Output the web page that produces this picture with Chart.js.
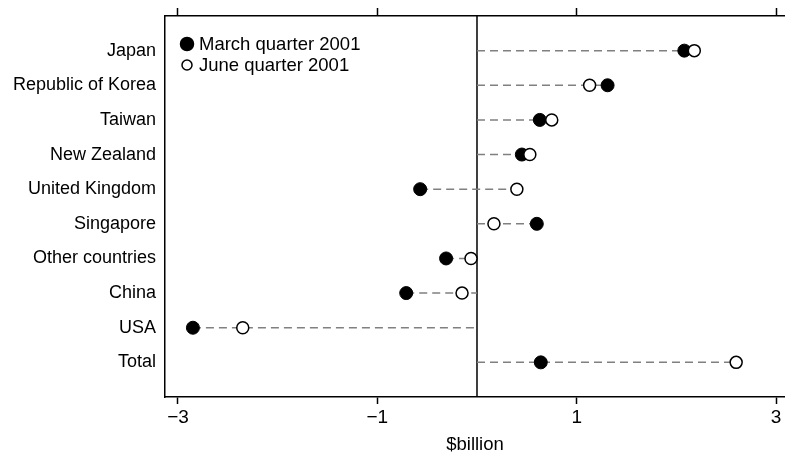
<!DOCTYPE html>
<html>
<head>
<meta charset="utf-8">
<script src="https://cdn.jsdelivr.net/npm/chart.js@4/dist/chart.umd.min.js"></script>
<style>
    body { margin: 0; background: #fff; }
    #wrap { width: 785px; height: 452px; position: relative; }
</style>
</head>
<body>
<div id="wrap"><canvas id="chart"></canvas></div>
<script>
// Data
const categories = ['Japan', 'Republic of Korea', 'Taiwan', 'New Zealand', 'United Kingdom',
    'Singapore', 'Other countries', 'China', 'USA', 'Total'];
const marchValues = [2.08, 1.31, 0.63, 0.45, -0.57, 0.60, -0.31, -0.71, -2.85, 0.64];
const juneValues = [2.18, 1.13, 0.75, 0.53, 0.40, 0.17, -0.06, -0.15, -2.35, 2.60];
const xTicks = [-3, -1, 1, 3];
const seriesNames = ['March quarter 2001', 'June quarter 2001'];

const FONT = 'Liberation Sans, Arial, sans-serif';

// dashed guide from zero out to the farthest marker in each row
const guides = [];
categories.forEach((c, i) => {
    const lo = Math.min(0, marchValues[i], juneValues[i]);
    const hi = Math.max(0, marchValues[i], juneValues[i]);
    guides.push({ x: lo, y: i + 1 }, { x: hi, y: i + 1 }, { x: hi, y: null });
});

const marchPoints = marchValues.map((v, i) => ({ x: v, y: i + 1 }));
const junePoints = juneValues.map((v, i) => ({ x: v, y: i + 1 }));

// legend drawn inside the plot area, top left
const innerLegend = {
    id: 'innerLegend',
    afterDraw(chart) {
        const { ctx, chartArea } = chart;
        const x = chartArea.left + 22;
        const rows = [chartArea.top + 28, chartArea.top + 49];
        ctx.save();
        ctx.font = '18.5px ' + FONT;
        ctx.textBaseline = 'middle';
        rows.forEach((y, k) => {
            ctx.beginPath();
            ctx.arc(x, y, k === 0 ? 6.5 : 5, 0, Math.PI * 2);
            ctx.lineWidth = 1.5;
            ctx.strokeStyle = '#000';
            ctx.fillStyle = k === 0 ? '#000' : '#fff';
            ctx.fill();
            ctx.stroke();
            ctx.fillStyle = '#000';
            ctx.fillText(seriesNames[k], x + 12, y + 1);
        });
        ctx.restore();
    }
};

const setTicks = values => scale => {
    scale.ticks = values.map(v => ({ value: v }));
};

const ctx = document.getElementById('chart').getContext('2d');
new Chart(ctx, {
    type: 'scatter',
    data: {
        datasets: [
            {
                label: 'zero',
                type: 'line',
                data: [{ x: 0, y: 0 }, { x: 0, y: 11 }],
                borderColor: '#000',
                borderWidth: 1.5,
                pointRadius: 0,
                order: 4
            },
            {
                label: 'guides',
                type: 'line',
                data: guides,
                borderColor: '#808080',
                borderWidth: 1.5,
                borderDash: [8, 5],
                pointRadius: 0,
                spanGaps: false,
                order: 3
            },
            {
                label: seriesNames[0],
                data: marchPoints,
                pointRadius: 6.5,
                pointBackgroundColor: '#000',
                pointBorderColor: '#000',
                pointBorderWidth: 1,
                order: 2
            },
            {
                label: seriesNames[1],
                data: junePoints,
                pointRadius: 6,
                pointBackgroundColor: '#fff',
                pointBorderColor: '#000',
                pointBorderWidth: 1.5,
                order: 1
            }
        ]
    },
    options: {
        responsive: true,
        maintainAspectRatio: false,
        animation: false,
        layout: { padding: 0, autoPadding: false },
        plugins: {
            legend: { display: false },
            tooltip: { enabled: false }
        },
        scales: {
            x: {
                type: 'linear',
                position: 'bottom',
                min: -3.13,
                max: 3.09,
                afterBuildTicks: setTicks(xTicks),
                afterFit: scale => {
                    scale.height = 55;
                    scale.paddingLeft = 0;
                    scale.paddingRight = 0;
                },
                grid: { drawOnChartArea: false, tickLength: 7, tickColor: '#000', tickWidth: 1.5 },
                border: { display: true, color: '#000', width: 1.5 },
                ticks: {
                    color: '#000',
                    font: { family: FONT, size: 19 },
                    padding: 2,
                    maxRotation: 0,
                    callback: v => (v < 0 ? '\u2212' + Math.abs(v) : String(v))
                },
                title: {
                    display: true,
                    text: '$billion',
                    color: '#000',
                    font: { family: FONT, size: 18.5 },
                    padding: { top: 0, bottom: -4 }
                }
            },
            x2: {
                type: 'linear',
                position: 'top',
                min: -3.13,
                max: 3.09,
                afterBuildTicks: setTicks(xTicks),
                afterFit: scale => {
                    scale.height = 16;
                    scale.paddingLeft = 0;
                    scale.paddingRight = 0;
                },
                grid: { drawOnChartArea: false, tickLength: 8, tickColor: '#000', tickWidth: 1.5 },
                border: { display: true, color: '#000', width: 1.5 },
                ticks: { display: false }
            },
            y: {
                type: 'linear',
                reverse: true,
                min: 0,
                max: 11,
                afterBuildTicks: setTicks(categories.map((c, i) => i + 1)),
                afterFit: scale => {
                    scale.width = 165;
                    scale.paddingTop = 0;
                    scale.paddingBottom = 0;
                },
                grid: { drawOnChartArea: false, drawTicks: false },
                border: { display: true, color: '#000', width: 1.5 },
                ticks: {
                    color: '#000',
                    font: { family: FONT, size: 18 },
                    padding: 9,
                    autoSkip: false,
                    callback: v => categories[v - 1]
                }
            }
        }
    },
    plugins: [innerLegend]
});
</script>
</body>
</html>
